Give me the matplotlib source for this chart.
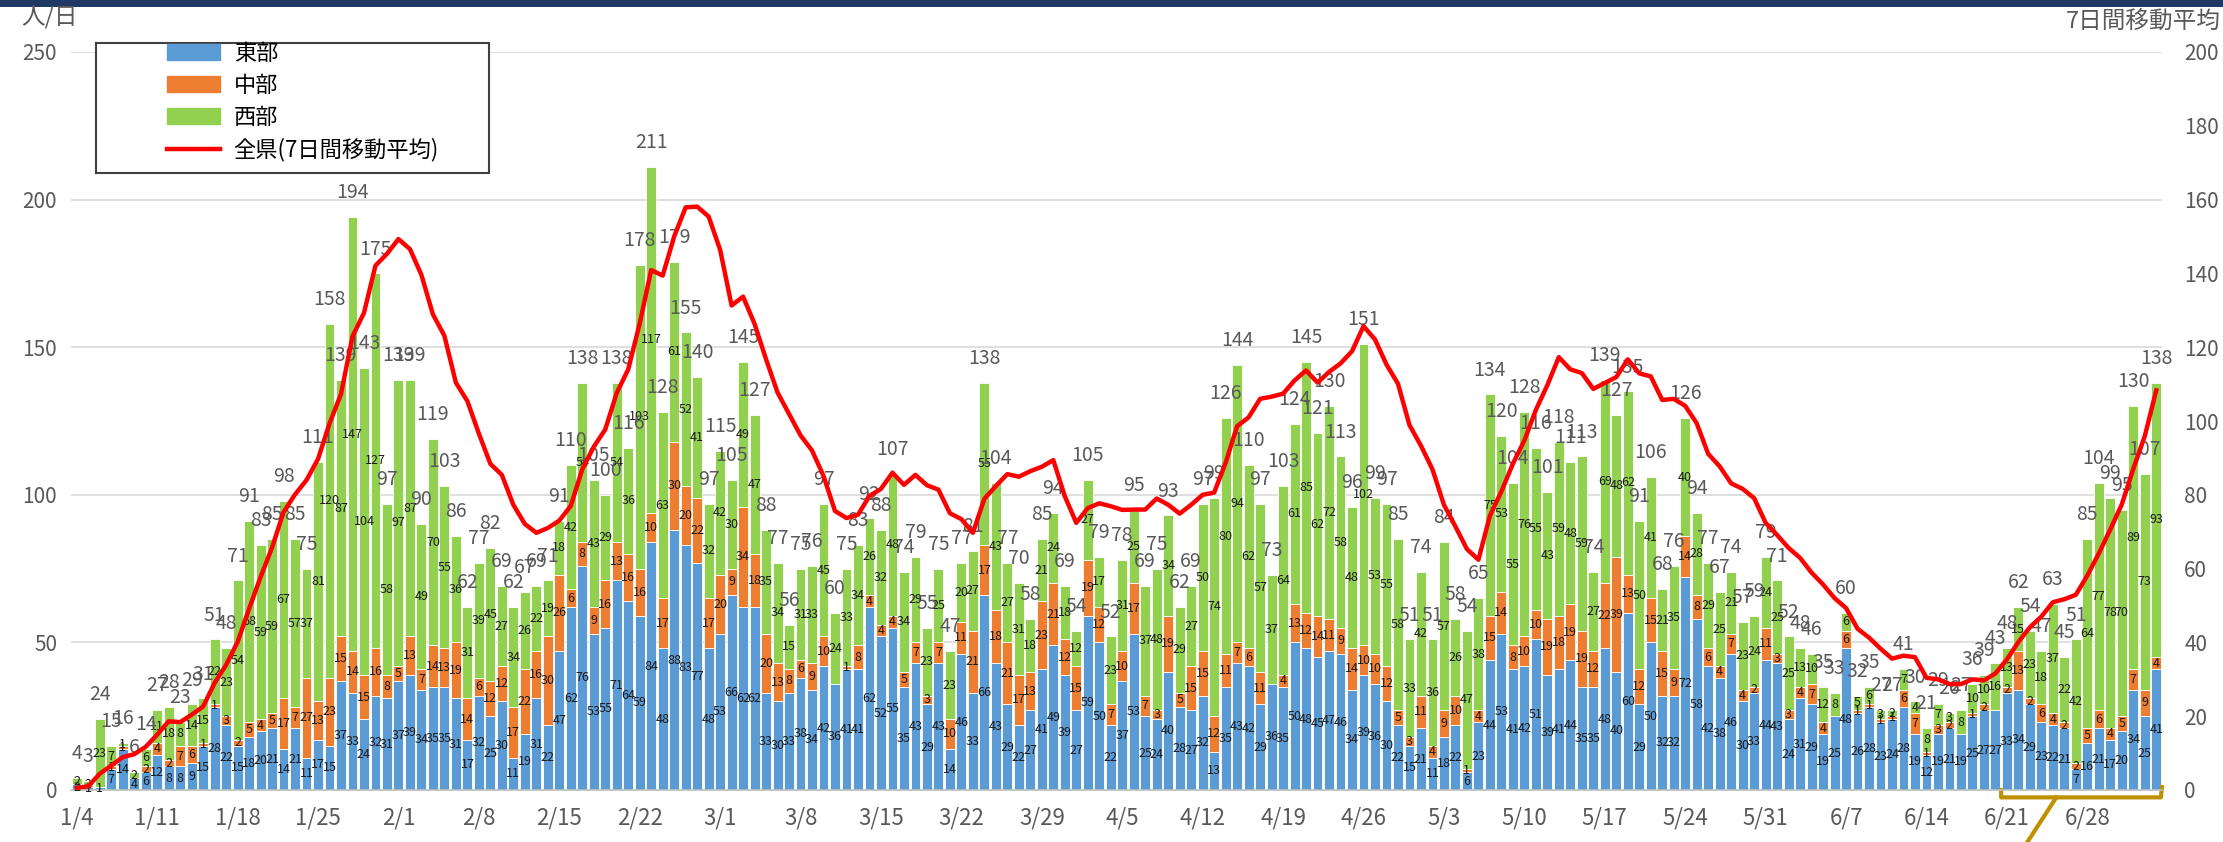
import numpy as np
import matplotlib
matplotlib.use("Agg")
import matplotlib.pyplot as plt
import matplotlib.transforms as mtransforms
from matplotlib.patches import Rectangle, Patch
from matplotlib.lines import Line2D

plt.rcParams['font.family'] = ['Noto Sans CJK JP', 'DejaVu Sans']

# daily cases 2021/1/4 - 7/4, by region
east = [
    2, 1, 1, 7, 14, 4, 6, 12, 8, 8, 9, 15, 28, 22, 15, 18, 20, 21, 14, 21, 11, 17, 15, 37, 33, 24, 32, 31,
    37, 39, 34, 35, 35, 31, 17, 32, 25, 30, 11, 19, 31, 22, 47, 62, 76, 53, 55, 71, 64, 59, 84, 48, 88, 83, 77, 48,
    53, 66, 62, 62, 33, 30, 33, 38, 34, 42, 36, 41, 41, 62, 52, 55, 35, 43, 29, 43, 14, 46, 33, 66, 43, 29, 22, 27, 41, 49, 39,
    27, 59, 50, 22, 37, 53, 25, 24, 40, 28, 27, 32, 13, 35, 43, 42, 29, 36, 35, 50, 48, 45, 47, 46, 34, 39, 36, 30, 22, 15,
    21, 11, 18, 22, 6, 23, 44, 53, 41, 42, 51, 39, 41, 44, 35, 35, 48, 40, 60, 29, 50, 32, 32, 72, 58, 42, 38, 46, 30, 33, 44,
    43, 24, 31, 29, 19, 25, 48, 26, 28, 23, 24, 28, 19, 12, 19, 21, 19, 25, 27, 27, 33, 34, 29, 23, 22, 21, 7, 16, 21, 17,
    20, 34, 25, 41,
]
middle = [
    0, 0, 0, 1, 1, 0, 2, 4, 2, 7, 6, 1, 1, 3, 2, 5, 4, 5, 17, 7, 27, 13, 23, 15, 14, 15, 16, 8,
    5, 13, 7, 14, 13, 19, 14, 6, 12, 12, 17, 22, 16, 30, 26, 6, 8, 9, 16, 13, 16, 16, 10, 17, 30, 20, 22, 17,
    20, 9, 34, 18, 20, 13, 8, 6, 9, 10, 0, 1, 8, 4, 4, 4, 5, 7, 3, 7, 10, 11, 21, 17, 18, 21, 17, 13, 23, 21, 12,
    15, 19, 12, 7, 10, 17, 7, 3, 19, 5, 15, 15, 12, 11, 7, 6, 11, 0, 4, 13, 12, 14, 11, 9, 14, 10, 10, 12, 5, 3,
    11, 4, 9, 10, 1, 4, 15, 14, 8, 10, 10, 19, 18, 19, 19, 12, 22, 39, 13, 12, 15, 15, 9, 14, 8, 6, 4, 7, 4, 2, 11,
    3, 3, 4, 7, 4, 0, 6, 1, 1, 1, 1, 6, 7, 1, 3, 2, 0, 1, 2, 0, 2, 13, 2, 6, 4, 2, 2, 5, 6, 4,
    5, 7, 9, 4,
]
west = [
    2, 2, 23, 7, 1, 2, 6, 11, 18, 8, 14, 15, 22, 23, 54, 68, 59, 59, 67, 57, 37, 81, 120, 87, 147, 104, 127, 58,
    97, 87, 49, 70, 55, 36, 31, 39, 45, 27, 34, 26, 22, 19, 18, 42, 54, 43, 29, 54, 36, 103, 117, 63, 61, 52, 41, 32,
    42, 30, 49, 47, 35, 34, 15, 31, 33, 45, 24, 33, 34, 26, 32, 48, 34, 29, 23, 25, 23, 20, 27, 55, 43, 27, 31, 18, 21, 24, 18,
    12, 27, 17, 23, 31, 25, 37, 48, 34, 29, 27, 50, 74, 80, 94, 62, 57, 37, 64, 61, 85, 62, 72, 58, 48, 102, 53, 55, 58, 33,
    42, 36, 57, 26, 47, 38, 75, 53, 55, 76, 55, 43, 59, 48, 59, 27, 69, 48, 62, 50, 41, 21, 35, 40, 28, 29, 25, 21, 23, 24, 24,
    25, 25, 13, 10, 12, 8, 6, 5, 6, 3, 2, 7, 4, 8, 7, 3, 8, 10, 10, 16, 13, 15, 23, 18, 37, 22, 42, 64, 77, 78,
    70, 89, 73, 93,
]
# 全県 7日間移動平均
ma7 = [
    0.6, 1.0, 4.4, 6.6, 8.9, 9.7, 11.7, 15.0, 18.6, 18.4, 20.4, 22.6, 29.0, 33.9,
    40.1, 49.1, 57.7, 65.7, 75.3, 80.1, 84.0, 89.7, 99.3, 107.3, 122.9, 129.3, 142.1, 145.3,
    149.3, 146.6, 139.6, 128.9, 123.1, 110.4, 105.4, 96.6, 88.4, 85.4, 77.3, 72.1, 69.7, 71.0,
    73.0, 77.0, 86.9, 93.0, 97.7, 107.6, 114.0, 126.4, 140.9, 139.4, 150.0, 157.9, 158.1, 155.4,
    146.4, 131.3, 133.7, 126.3, 116.7, 107.7, 101.9, 96.1, 92.0, 85.1, 75.6, 73.7, 74.6, 79.7,
    81.6, 86.0, 82.7, 85.4, 82.6, 81.4, 75.0, 73.4, 69.7, 78.9, 82.4, 85.6, 84.9, 86.4, 87.6, 89.4, 79.6,
    72.4, 76.4, 77.7, 76.9, 75.9, 76.0, 76.0, 79.0, 77.3, 74.9, 77.3, 80.0, 80.6, 88.7, 98.6,
    101.0, 106.0, 106.6, 107.4, 111.0, 113.7, 110.4, 113.3, 115.6, 118.9, 125.7, 122.1, 115.3, 110.1, 98.9,
    93.3, 86.9, 77.3, 71.4, 65.3, 62.4, 74.3, 80.9, 88.4, 94.7, 103.0, 109.7, 117.3, 114.0, 113.0, 108.7,
    110.3, 111.9, 116.7, 112.9, 112.1, 105.7, 106.0, 104.1, 99.4, 91.1, 87.7, 83.1, 81.6, 79.1, 72.4,
    69.1, 65.6, 62.9, 58.9, 55.7, 52.0, 49.3, 43.7, 41.3, 38.3, 35.6, 36.4, 36.0, 30.4, 30.0,
    28.7, 28.7, 30.0, 29.7, 31.6, 35.4, 40.1, 44.1, 47.0, 50.9, 51.7, 52.9, 58.1, 64.1, 70.6,
    77.4, 87.0, 95.9, 108.3,
]
week_labels = ['1/4', '1/11', '1/18', '1/25', '2/1', '2/8', '2/15', '2/22', '3/1', '3/8', '3/15', '3/22', '3/29',
               '4/5', '4/12', '4/19', '4/26', '5/3', '5/10', '5/17', '5/24', '5/31', '6/7', '6/14', '6/21', '6/28']

C_EAST, C_MID, C_WEST, C_LINE = '#5B9BD5', '#ED7D31', '#92D050', '#FF0000'
GREY = '#595959'

W, H = 2223, 842
fig = plt.figure(figsize=(W / 100, H / 100), dpi=100)
ax = fig.add_axes([71 / W, 1 - 790 / H, (2162 - 71) / W, (790 - 52) / H])

x = np.arange(len(east))
e = np.array(east)
m = np.array(middle)
w = np.array(west)
totals = e + m + w

bw = 0.86
b1 = ax.bar(x, e, bw, color=C_EAST, edgecolor='white', linewidth=0.6)
b2 = ax.bar(x, m, bw, bottom=e, color=C_MID, edgecolor='white', linewidth=0.6)
b3 = ax.bar(x, w, bw, bottom=e + m, color=C_WEST, edgecolor='white', linewidth=0.6)

for cont, vals in ((b1, east), (b2, middle), (b3, west)):
    ax.bar_label(cont, labels=[str(v) if v else '' for v in vals], label_type='center',
                 fontsize=9, color='#1a1a1a')
ax.bar_label(b3, labels=[str(t) for t in totals], padding=10, fontsize=14, color=GREY)

ax.set_xlim(-0.5, len(east) - 0.5)
ax.set_ylim(0, 250)
ax.set_yticks(range(0, 251, 50))
ax.set_xticks(range(0, len(east), 7))
ax.set_xticklabels(week_labels)
ax.grid(axis='y', color='#D9D9D9', linewidth=1.2)
ax.set_axisbelow(True)
for s in ('top', 'left', 'right'):
    ax.spines[s].set_visible(False)
ax.spines['bottom'].set_color('#BFBFBF')
ax.spines['bottom'].set_linewidth(1.2)
ax.tick_params(axis='y', length=0, pad=10, labelsize=15, labelcolor=GREY)
ax.tick_params(axis='x', length=0, pad=12, labelsize=16, labelcolor=GREY)

ax2 = ax.twinx()
ax2.plot(x, ma7, color=C_LINE, linewidth=3.2)
ax2.set_ylim(0, 200)
ax2.set_yticks(range(0, 201, 20))
for s in ax2.spines.values():
    s.set_visible(False)
ax2.tick_params(axis='y', length=0, pad=16, labelsize=15, labelcolor=GREY)

# axis captions
fig.text(21 / W, 1 - 17 / H, '人/日', fontsize=17, color=GREY, va='center', ha='left')
fig.text(2221 / W, 1 - 21 / H, '7日間移動平均', fontsize=17, color=GREY, va='center', ha='right')

# legend in a framed box
fig.add_artist(Rectangle((96 / W, 1 - 173 / H), 393 / W, 130 / H, transform=fig.transFigure,
                         facecolor='white', edgecolor='#404040', linewidth=1.5, zorder=4))
handles = [Patch(color=C_EAST), Patch(color=C_MID), Patch(color=C_WEST),
           Line2D([], [], color=C_LINE, linewidth=3.2)]
leg = fig.legend(handles, ['東部', '中部', '西部', '全県(7日間移動平均)'], loc='upper left',
                 bbox_to_anchor=(167 / W, 1 - 42 / H), frameon=False, borderpad=0, borderaxespad=0,
                 handlelength=2.4, handletextpad=0.6, labelspacing=0.4, fontsize=16)
leg.set_zorder(6)

# dark strip at top
fig.add_artist(Rectangle((0, 1 - 7 / H), 1, 7 / H, transform=fig.transFigure,
                         facecolor='#1F3864', edgecolor='none', zorder=3))

# gold bracket under the last two weeks
tr = mtransforms.blended_transform_factory(ax.transData, ax.transAxes)
n = len(east)
ax.plot([n - 14.5, n - 14.5, n - 0.6, n - 0.5], [0.0, -0.010, -0.010, 0.004], color='#BF9000',
        linewidth=3, transform=tr, clip_on=False, solid_joinstyle='round')
ax.plot([n - 9.7, n - 12.4], [-0.010, -0.075], color='#BF9000', linewidth=3, transform=tr, clip_on=False)

fig.savefig('out.png', dpi=100)
